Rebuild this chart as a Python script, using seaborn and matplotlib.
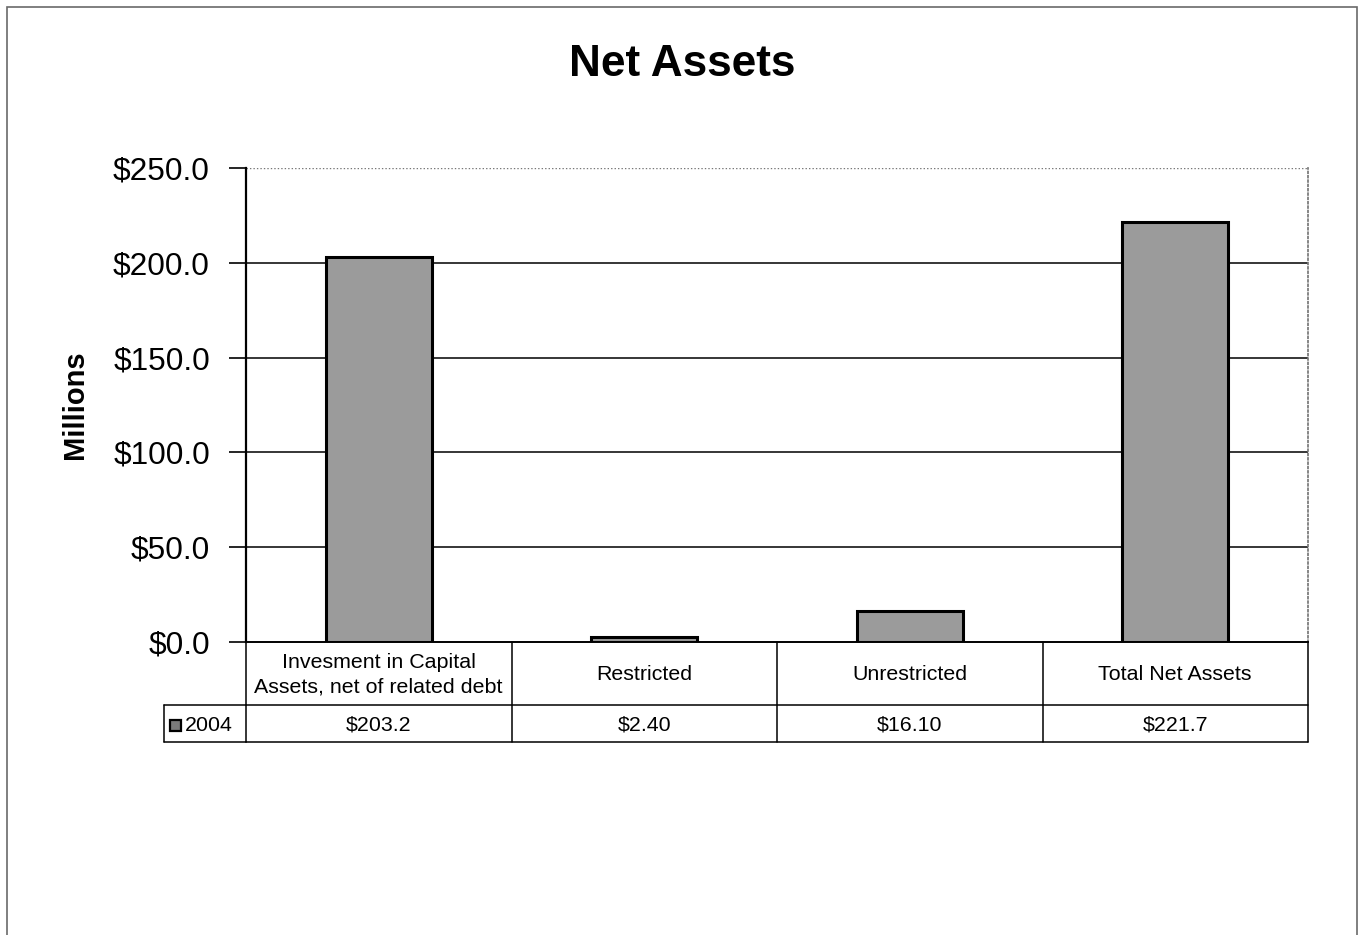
import matplotlib
matplotlib.use("Agg")
import matplotlib.pyplot as plt
import matplotlib.transforms as mtransforms
from matplotlib.patches import Rectangle
import seaborn as sns
import pandas as pd

# Net asset components (millions of dollars), fiscal year 2004
categories = ["Invesment in Capital\nAssets, net of related debt",
              "Restricted", "Unrestricted", "Total Net Assets"]
values_2004 = [203.2, 2.4, 16.1, 221.7]
label_decimals = [1, 2, 2, 1]
series_name = "2004"
y_ticks = [0, 50, 100, 150, 200, 250]

sns.set_theme(style="white")
plt.rcParams["font.family"] = ["Liberation Sans", "DejaVu Sans"]
plt.rcParams["text.color"] = "black"
plt.rcParams["axes.labelcolor"] = "black"
plt.rcParams["ytick.color"] = "black"

W, H = 1360, 935
fig = plt.figure(figsize=(W / 100, H / 100), dpi=100)
fig.patch.set_facecolor("white")

# outer frame of the chart object
fig.add_artist(Rectangle((7 / W, -0.01), (1357 - 7) / W, 1 - 7 / H + 0.01,
                         transform=fig.transFigure, fill=False,
                         edgecolor="#6a6a6a", linewidth=1.2))

ax = fig.add_axes([246 / W, 1 - 642 / H, (1308 - 246) / W, (642 - 168) / H])

df = pd.DataFrame({"category": categories, "value": values_2004})
sns.barplot(data=df, x="category", y="value", ax=ax, color="#9b9b9b",
            saturation=1, width=0.4, edgecolor="black", linewidth=2.2,
            zorder=3)

ax.set_xlim(-0.5, len(categories) - 0.5)
ax.set_ylim(0, 250)
ax.set_yticks(y_ticks)
ax.set_yticklabels([f"${t:.1f}" for t in y_ticks], fontsize=22.8, color="black")
ax.tick_params(axis="y", length=12, width=1.2, color="black", pad=14,
               left=True, direction="out")
ax.set_xticks([])
ax.set_xlabel("")
ax.set_ylabel("Millions", fontsize=21, fontweight="bold", labelpad=17.5,
              color="black")

for t in y_ticks[1:-1]:
    ax.axhline(t, color="black", linewidth=1.1, zorder=1)
ax.axhline(250, color="#777777", linewidth=1.0, linestyle=(0, (1, 1.5)), zorder=1)

ax.spines["top"].set_visible(False)
ax.spines["right"].set_color("#777777")
ax.spines["right"].set_linestyle((0, (1, 1.5)))
ax.spines["left"].set_color("black")
ax.spines["left"].set_linewidth(1.6)
ax.spines["bottom"].set_color("black")
ax.spines["bottom"].set_linewidth(1.4)

# data table under the axis: category header row + value row
trans = mtransforms.blended_transform_factory(ax.transData, ax.transAxes)
ax_h = 642 - 168
y_head = -(705 - 642) / ax_h
y_row = -(742 - 642) / ax_h
n = len(categories)
lw = 1.1
line_kw = dict(color="black", linewidth=lw, clip_on=False, transform=trans)
ax.plot([-0.5, n - 0.5], [y_head, y_head], **line_kw)
ax.plot([-0.5, n - 0.5], [y_row, y_row], **line_kw)
for i in range(n + 1):
    ax.plot([i - 0.5, i - 0.5], [0, y_row], **line_kw)

ax_w = 1308 - 246
x_leg = -0.5 - (246 - 164) / ax_w * n
ax.plot([x_leg, -0.5], [y_head, y_head], **line_kw)
ax.plot([x_leg, -0.5], [y_row, y_row], **line_kw)
ax.plot([x_leg, x_leg], [y_head, y_row], **line_kw)

for i, (cat, v, d) in enumerate(zip(categories, values_2004, label_decimals)):
    ax.text(i, y_head / 2 - 1 / ax_h, cat, transform=trans, ha="center",
            va="center", fontsize=15.4, linespacing=1.4, clip_on=False)
    ax.text(i, (y_head + y_row) / 2 - 2 / ax_h, f"${v:.{d}f}", transform=trans,
            ha="center", va="center", fontsize=15.4, clip_on=False)

# legend key inside the row-label cell
key_w = (181 - 170) / ax_w * n
key_x = x_leg + (170 - 164) / ax_w * n
key_h = 11 / ax_h
ym = (y_head + y_row) / 2 - 2 / ax_h
ax.add_patch(Rectangle((key_x, ym - key_h / 2), key_w, key_h, transform=trans,
                       facecolor="#7a7a7a", edgecolor="black", linewidth=1.6,
                       clip_on=False))
ax.text(key_x + key_w + 4 / ax_w * n, ym, series_name, transform=trans,
        ha="left", va="center", fontsize=15.4, clip_on=False)

fig.text(682 / W, 1 - 64 / H, "Net Assets", ha="center", va="center",
         fontsize=31.8, fontweight="bold")

fig.savefig("out.png", dpi=100, facecolor="white")
